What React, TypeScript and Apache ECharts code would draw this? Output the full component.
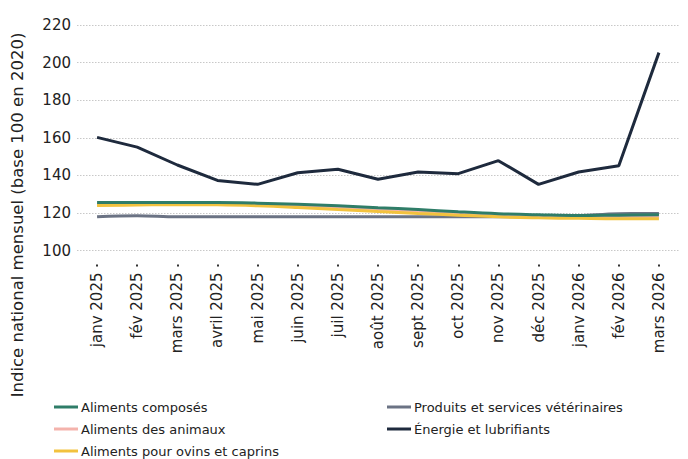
import React, { useEffect, useRef } from "react";
import * as echarts from "echarts";

const categories = [
  "janv 2025", "fév 2025", "mars 2025", "avril 2025", "mai 2025", "juin 2025", "juil 2025",
  "août 2025", "sept 2025", "oct 2025", "nov 2025", "déc 2025", "janv 2026", "fév 2026", "mars 2026",
];

const alimentsComposes = [125.5, 125.5, 125.5, 125.5, 125.2, 124.6, 123.8, 122.8, 121.8, 120.6, 119.6, 119.0, 118.6, 118.8, 119.0];
const alimentsAnimaux = [124.6, 125.0, 125.0, 124.9, 124.5, 123.8, 122.8, 121.8, 120.8, 119.8, 118.9, 118.4, 118.1, 118.0, 118.0];
const alimentsOvins = [124.0, 124.2, 124.4, 124.3, 123.8, 122.9, 121.8, 120.7, 119.7, 118.8, 117.9, 117.4, 117.1, 116.9, 116.9];
const veterinaires = [118.0, 118.5, 117.9, 117.9, 117.9, 117.9, 118.0, 118.0, 118.0, 118.0, 118.0, 118.0, 118.5, 119.6, 119.7];
const energie = [160.2, 155.0, 145.5, 137.3, 135.2, 141.4, 143.2, 137.9, 141.8, 140.9, 147.8, 135.2, 141.8, 145.1, 205.3];

const yTicks = { min: 100, max: 220, interval: 20 };

const names = [
  "Aliments composés",
  "Aliments des animaux",
  "Aliments pour ovins et caprins",
  "Produits et services vétérinaires",
  "Énergie et lubrifiants",
];
const colors = ["#2f7d68", "#f4b3ac", "#f2c23e", "#6b7384", "#1e2a3d"];

const FONT = "DejaVu Sans";

export default function App() {
  const ref = useRef<HTMLDivElement>(null);
  useEffect(() => {
    if (!ref.current) return;
    const chart = echarts.init(ref.current, null, { renderer: "svg" });
    const datas = [alimentsComposes, alimentsAnimaux, alimentsOvins, veterinaires, energie];
    const order = [3, 1, 2, 0, 4];
    const legendText = { fontSize: 13, color: "#222", fontFamily: FONT, padding: [0, 0, 0, -2], lineHeight: 16 };
    const legendBase = {
      orient: "vertical",
      top: 399,
      padding: 0,
      height: 60,
      icon: "rect",
      itemWidth: 24,
      itemHeight: 3,
      itemGap: 6,
      textStyle: legendText,
    };
    chart.setOption({
      animation: false,
      textStyle: { fontFamily: FONT },
      grid: { left: 77, right: 9, top: 25, bottom: 208.5 },
      xAxis: {
        type: "category",
        data: categories,
        boundaryGap: true,
        offset: 14,
        axisLine: { show: false },
        axisTick: { show: true, alignWithLabel: true, length: 2, lineStyle: { width: 2, color: "#333" } },
        axisLabel: { rotate: 90, fontSize: 15, color: "#222", margin: 8, fontFamily: FONT, interval: 0 },
        splitLine: { show: false },
      },
      yAxis: {
        type: "value",
        min: yTicks.min,
        max: yTicks.max,
        interval: yTicks.interval,
        axisLine: { show: false },
        axisTick: { show: false },
        axisLabel: { fontSize: 15, color: "#222", margin: 6, fontFamily: FONT },
        splitLine: { show: true, lineStyle: { type: [1.5, 1.5], color: "#c8c8c8", width: 1 } },
      },
      graphic: [
        {
          type: "text",
          x: 17,
          y: 215,
          rotation: Math.PI / 2,
          style: {
            text: "Indice national mensuel (base 100 en 2020)",
            fontSize: 16.5,
            fontFamily: FONT,
            fill: "#222",
            align: "center",
            verticalAlign: "middle",
          },
        },
      ],
      legend: [
        { ...legendBase, data: names.slice(0, 3), left: 54 },
        { ...legendBase, data: names.slice(3), left: 387 },
      ],
      series: order.map((i) => ({
        name: names[i],
        type: "line",
        data: datas[i],
        smooth: i === 4 ? false : 0.4,
        showSymbol: false,
        symbol: "none",
        color: colors[i],
        lineStyle: { width: 3, color: colors[i] },
        z: i === 4 ? 5 : 2,
      })),
    });
    return () => chart.dispose();
  }, []);
  return <div ref={ref} style={{ width: 688, height: 459, position: "absolute", left: 0, top: 0 }} />;
}
